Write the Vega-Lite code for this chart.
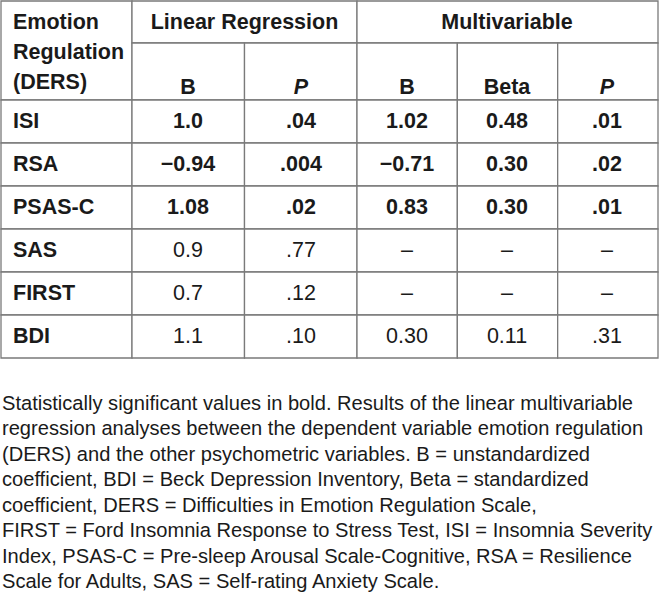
{
  "$schema": "https://vega.github.io/schema/vega-lite/v6.json",
  "width": 660,
  "height": 607,
  "padding": 0,
  "autosize": {"type": "none"},
  "background": "white",
  "config": {"view": {"stroke": null}},
  "datasets": {
    "grid": [
      {"c0": 0, "c1": 1, "r0": 0, "r1": 2},
      {"c0": 1, "c1": 3, "r0": 0, "r1": 1},
      {"c0": 3, "c1": 6, "r0": 0, "r1": 1},
      {"c0": 1, "c1": 2, "r0": 1, "r1": 2},
      {"c0": 2, "c1": 3, "r0": 1, "r1": 2},
      {"c0": 3, "c1": 4, "r0": 1, "r1": 2},
      {"c0": 4, "c1": 5, "r0": 1, "r1": 2},
      {"c0": 5, "c1": 6, "r0": 1, "r1": 2},
      {"c0": 0, "c1": 1, "r0": 2, "r1": 3}, {"c0": 1, "c1": 2, "r0": 2, "r1": 3}, {"c0": 2, "c1": 3, "r0": 2, "r1": 3}, {"c0": 3, "c1": 4, "r0": 2, "r1": 3}, {"c0": 4, "c1": 5, "r0": 2, "r1": 3}, {"c0": 5, "c1": 6, "r0": 2, "r1": 3},
      {"c0": 0, "c1": 1, "r0": 3, "r1": 4}, {"c0": 1, "c1": 2, "r0": 3, "r1": 4}, {"c0": 2, "c1": 3, "r0": 3, "r1": 4}, {"c0": 3, "c1": 4, "r0": 3, "r1": 4}, {"c0": 4, "c1": 5, "r0": 3, "r1": 4}, {"c0": 5, "c1": 6, "r0": 3, "r1": 4},
      {"c0": 0, "c1": 1, "r0": 4, "r1": 5}, {"c0": 1, "c1": 2, "r0": 4, "r1": 5}, {"c0": 2, "c1": 3, "r0": 4, "r1": 5}, {"c0": 3, "c1": 4, "r0": 4, "r1": 5}, {"c0": 4, "c1": 5, "r0": 4, "r1": 5}, {"c0": 5, "c1": 6, "r0": 4, "r1": 5},
      {"c0": 0, "c1": 1, "r0": 5, "r1": 6}, {"c0": 1, "c1": 2, "r0": 5, "r1": 6}, {"c0": 2, "c1": 3, "r0": 5, "r1": 6}, {"c0": 3, "c1": 4, "r0": 5, "r1": 6}, {"c0": 4, "c1": 5, "r0": 5, "r1": 6}, {"c0": 5, "c1": 6, "r0": 5, "r1": 6},
      {"c0": 0, "c1": 1, "r0": 6, "r1": 7}, {"c0": 1, "c1": 2, "r0": 6, "r1": 7}, {"c0": 2, "c1": 3, "r0": 6, "r1": 7}, {"c0": 3, "c1": 4, "r0": 6, "r1": 7}, {"c0": 4, "c1": 5, "r0": 6, "r1": 7}, {"c0": 5, "c1": 6, "r0": 6, "r1": 7},
      {"c0": 0, "c1": 1, "r0": 7, "r1": 8}, {"c0": 1, "c1": 2, "r0": 7, "r1": 8}, {"c0": 2, "c1": 3, "r0": 7, "r1": 8}, {"c0": 3, "c1": 4, "r0": 7, "r1": 8}, {"c0": 4, "c1": 5, "r0": 7, "r1": 8}, {"c0": 5, "c1": 6, "r0": 7, "r1": 8}
    ],
    "cells": [
      {"r": 0, "c": 0, "t": "Emotion\nRegulation\n(DERS)", "s": "label"},
      {"r": 0, "c": 1.5, "t": "Linear Regression", "s": "bold"},
      {"r": 0, "c": 4, "t": "Multivariable", "s": "bold"},
      {"r": 1, "c": 1, "t": "B", "s": "bold"},
      {"r": 1, "c": 2, "t": "P", "s": "italic"},
      {"r": 1, "c": 3, "t": "B", "s": "bold"},
      {"r": 1, "c": 4, "t": "Beta", "s": "bold"},
      {"r": 1, "c": 5, "t": "P", "s": "italic"},
      {"r": 2, "c": 0, "t": "ISI", "s": "label"},
      {"r": 2, "c": 1, "t": "1.0", "s": "bold"},
      {"r": 2, "c": 2, "t": ".04", "s": "bold"},
      {"r": 2, "c": 3, "t": "1.02", "s": "bold"},
      {"r": 2, "c": 4, "t": "0.48", "s": "bold"},
      {"r": 2, "c": 5, "t": ".01", "s": "bold"},
      {"r": 3, "c": 0, "t": "RSA", "s": "label"},
      {"r": 3, "c": 1, "t": "−0.94", "s": "bold"},
      {"r": 3, "c": 2, "t": ".004", "s": "bold"},
      {"r": 3, "c": 3, "t": "−0.71", "s": "bold"},
      {"r": 3, "c": 4, "t": "0.30", "s": "bold"},
      {"r": 3, "c": 5, "t": ".02", "s": "bold"},
      {"r": 4, "c": 0, "t": "PSAS-C", "s": "label"},
      {"r": 4, "c": 1, "t": "1.08", "s": "bold"},
      {"r": 4, "c": 2, "t": ".02", "s": "bold"},
      {"r": 4, "c": 3, "t": "0.83", "s": "bold"},
      {"r": 4, "c": 4, "t": "0.30", "s": "bold"},
      {"r": 4, "c": 5, "t": ".01", "s": "bold"},
      {"r": 5, "c": 0, "t": "SAS", "s": "label"},
      {"r": 5, "c": 1, "t": "0.9", "s": "normal"},
      {"r": 5, "c": 2, "t": ".77", "s": "normal"},
      {"r": 5, "c": 3, "t": "–", "s": "normal"},
      {"r": 5, "c": 4, "t": "–", "s": "normal"},
      {"r": 5, "c": 5, "t": "–", "s": "normal"},
      {"r": 6, "c": 0, "t": "FIRST", "s": "label"},
      {"r": 6, "c": 1, "t": "0.7", "s": "normal"},
      {"r": 6, "c": 2, "t": ".12", "s": "normal"},
      {"r": 6, "c": 3, "t": "–", "s": "normal"},
      {"r": 6, "c": 4, "t": "–", "s": "normal"},
      {"r": 6, "c": 5, "t": "–", "s": "normal"},
      {"r": 7, "c": 0, "t": "BDI", "s": "label"},
      {"r": 7, "c": 1, "t": "1.1", "s": "normal"},
      {"r": 7, "c": 2, "t": ".10", "s": "normal"},
      {"r": 7, "c": 3, "t": "0.30", "s": "normal"},
      {"r": 7, "c": 4, "t": "0.11", "s": "normal"},
      {"r": 7, "c": 5, "t": ".31", "s": "normal"}
    ],
    "note": [
      {"line": 1, "t": "Statistically significant values in bold. Results of the linear multivariable"},
      {"line": 2, "t": "regression analyses between the dependent variable emotion regulation"},
      {"line": 3, "t": "(DERS) and the other psychometric variables. B = unstandardized"},
      {"line": 4, "t": "coefficient, BDI = Beck Depression Inventory, Beta = standardized"},
      {"line": 5, "t": "coefficient, DERS = Difficulties in Emotion Regulation Scale,"},
      {"line": 6, "t": "FIRST = Ford Insomnia Response to Stress Test, ISI = Insomnia Severity"},
      {"line": 7, "t": "Index, PSAS-C = Pre-sleep Arousal Scale-Cognitive, RSA = Resilience"},
      {"line": 8, "t": "Scale for Adults, SAS = Self-rating Anxiety Scale."}
    ]
  },
  "layer": [
    {
      "data": {"name": "grid"},
      "mark": {"type": "rect", "fill": "white", "stroke": "#7a7a7a", "strokeWidth": 1.3},
      "encoding": {
        "x": {"field": "c0", "type": "quantitative", "axis": null, "scale": {"domain": [0, 1, 3, 6], "range": [1, 132, 357, 658], "zero": false, "nice": false}},
        "x2": {"field": "c1"},
        "y": {"field": "r0", "type": "quantitative", "axis": null, "scale": {"domain": [0, 1, 2, 8], "range": [1, 43, 100, 358], "zero": false, "nice": false}},
        "y2": {"field": "r1"}
      }
    },
    {
      "data": {"name": "cells"},
      "transform": [{"filter": "datum.s === 'label'"}],
      "mark": {"type": "text", "align": "left", "baseline": "middle", "font": "Liberation Sans", "fontSize": 21.5, "fontWeight": "bold", "lineBreak": "\n", "lineHeight": 30, "color": "#1a1a1a"},
      "encoding": {
        "x": {"field": "c", "type": "quantitative", "axis": null, "scale": {"domain": [0, 1, 2, 3, 4, 5], "range": [13, 188, 301, 407, 507, 607], "zero": false, "nice": false}},
        "y": {"field": "r", "type": "quantitative", "axis": null, "scale": {"domain": [0, 1, 2, 7], "range": [23, 88, 121.5, 336.5], "zero": false, "nice": false}},
        "text": {"field": "t"}
      }
    },
    {
      "data": {"name": "cells"},
      "transform": [{"filter": "datum.s === 'bold'"}],
      "mark": {"type": "text", "align": "center", "baseline": "middle", "font": "Liberation Sans", "fontSize": 21.5, "fontWeight": "bold", "color": "#1a1a1a"},
      "encoding": {
        "x": {"field": "c", "type": "quantitative", "axis": null, "scale": {"domain": [0, 1, 2, 3, 4, 5], "range": [13, 188, 301, 407, 507, 607], "zero": false, "nice": false}},
        "y": {"field": "r", "type": "quantitative", "axis": null, "scale": {"domain": [0, 1, 2, 7], "range": [23, 88, 121.5, 336.5], "zero": false, "nice": false}},
        "text": {"field": "t"}
      }
    },
    {
      "data": {"name": "cells"},
      "transform": [{"filter": "datum.s === 'italic'"}],
      "mark": {"type": "text", "align": "center", "baseline": "middle", "font": "Liberation Sans", "fontSize": 21.5, "fontWeight": "bold", "fontStyle": "italic", "color": "#1a1a1a"},
      "encoding": {
        "x": {"field": "c", "type": "quantitative", "axis": null, "scale": {"domain": [0, 1, 2, 3, 4, 5], "range": [13, 188, 301, 407, 507, 607], "zero": false, "nice": false}},
        "y": {"field": "r", "type": "quantitative", "axis": null, "scale": {"domain": [0, 1, 2, 7], "range": [23, 88, 121.5, 336.5], "zero": false, "nice": false}},
        "text": {"field": "t"}
      }
    },
    {
      "data": {"name": "cells"},
      "transform": [{"filter": "datum.s === 'normal'"}],
      "mark": {"type": "text", "align": "center", "baseline": "middle", "font": "Liberation Sans", "fontSize": 21.5, "fontWeight": "normal", "color": "#1a1a1a"},
      "encoding": {
        "x": {"field": "c", "type": "quantitative", "axis": null, "scale": {"domain": [0, 1, 2, 3, 4, 5], "range": [13, 188, 301, 407, 507, 607], "zero": false, "nice": false}},
        "y": {"field": "r", "type": "quantitative", "axis": null, "scale": {"domain": [0, 1, 2, 7], "range": [23, 88, 121.5, 336.5], "zero": false, "nice": false}},
        "text": {"field": "t"}
      }
    },
    {
      "data": {"name": "note"},
      "mark": {"type": "text", "align": "left", "baseline": "alphabetic", "font": "Liberation Sans", "fontSize": 20.1, "color": "#1a1a1a"},
      "encoding": {
        "x": {"datum": 0, "type": "quantitative", "axis": null, "scale": {"domain": [0, 1], "range": [2, 658], "zero": false, "nice": false}},
        "y": {"field": "line", "type": "quantitative", "axis": null, "scale": {"domain": [1, 8], "range": [410, 588], "zero": false, "nice": false}},
        "text": {"field": "t"}
      }
    }
  ],
  "resolve": {"scale": {"x": "independent", "y": "independent"}}
}
